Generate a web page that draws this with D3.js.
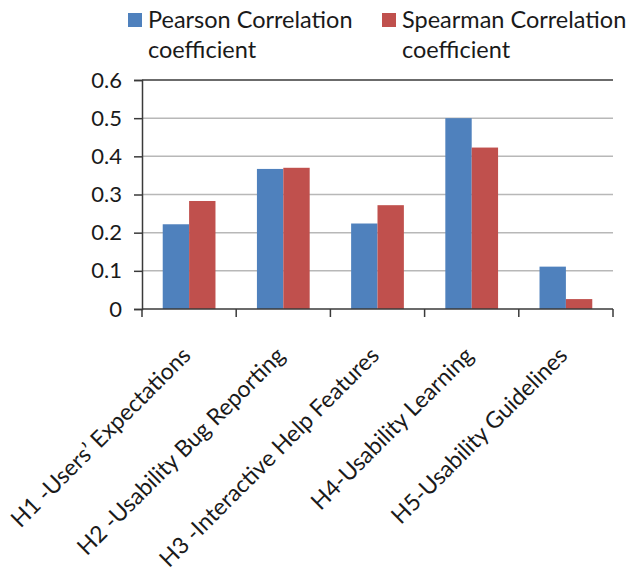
<!DOCTYPE html>
<html>
<head>
<meta charset="utf-8">
<script src="https://cdn.jsdelivr.net/npm/d3@7"></script>
<style>
    body { margin: 0; background: #fff; }
    text { font-family: Lato, "Open Sans", sans-serif; fill: #1a1a1a; }
</style>
</head>
<body>
<div id="chart"></div>
<script>
"use strict";

var categories = [
    "H1 -Users\u2019 Expectations",
    "H2 -Usability Bug Reporting",
    "H3 -Interactive Help Features",
    "H4-Usability Learning",
    "H5-Usability Guidelines"
];
var seriesNames = ["Pearson Correlation coefficient", "Spearman Correlation coefficient"];
var pearson = [0.222, 0.367, 0.224, 0.50, 0.111];
var spearman = [0.283, 0.370, 0.272, 0.423, 0.026];
var yTicks = [0, 0.1, 0.2, 0.3, 0.4, 0.5, 0.6];
var colors = ["#4f81bd", "#c0504d"];

var width = 633;
var height = 579;
var plotLeft = 142, plotRight = 613, plotTop = 80, plotBottom = 309;

var svg = d3.select("#chart")
    .append("svg")
    .attr("width", width)
    .attr("height", height);

var x = d3.scaleBand()
    .domain(categories)
    .range([plotLeft, plotRight])
    .paddingInner(0.44)
    .paddingOuter(0.22);

var xSub = d3.scaleBand()
    .domain([0, 1])
    .range([0, x.bandwidth()]);

var y = d3.scaleLinear()
    .domain([0, 0.6])
    .range([plotBottom, plotTop]);

// gridlines
svg.selectAll("line.grid")
    .data(yTicks.filter(function (d) { return d > 0; }))
    .enter()
    .append("line")
    .attr("class", "grid")
    .attr("x1", plotLeft)
    .attr("x2", plotRight)
    .attr("y1", function (d) { return y(d); })
    .attr("y2", function (d) { return y(d); })
    .attr("stroke", function (d) { return d === 0.6 ? "#3a3a3a" : "#b8b8b8"; })
    .attr("stroke-width", 1.5);

// bars
var rows = categories.map(function (c, i) {
    return { name: c, values: [pearson[i], spearman[i]] };
});

var groups = svg.selectAll("g.cat")
    .data(rows)
    .enter()
    .append("g")
    .attr("transform", function (d) { return "translate(" + x(d.name) + ",0)"; });

groups.selectAll("rect")
    .data(function (d) { return d.values; })
    .enter()
    .append("rect")
    .attr("x", function (d, i) { return xSub(i); })
    .attr("y", function (d) { return y(d); })
    .attr("width", xSub.bandwidth())
    .attr("height", function (d) { return plotBottom - y(d); })
    .attr("fill", function (d, i) { return colors[i]; });

// y axis
var yAxis = d3.axisLeft(y)
    .tickValues(yTicks)
    .tickSize(8)
    .tickPadding(12)
    .tickFormat(function (d) { return d === 0 ? "0" : d3.format(".1f")(d); });

var gy = svg.append("g")
    .attr("transform", "translate(" + plotLeft + ",0)")
    .call(yAxis);
gy.select(".domain").attr("stroke", "#3a3a3a").attr("stroke-width", 1.5);
gy.selectAll(".tick line").attr("stroke", "#3a3a3a").attr("stroke-width", 1.5);
gy.selectAll(".tick text")
    .attr("font-size", 22)
    .attr("font-family", "Lato, sans-serif")
    .attr("fill", "#1a1a1a");

// x axis line and boundary ticks
svg.append("line")
    .attr("x1", plotLeft)
    .attr("x2", plotRight)
    .attr("y1", plotBottom)
    .attr("y2", plotBottom)
    .attr("stroke", "#3a3a3a")
    .attr("stroke-width", 1.5);

var step = x.step();
var boundaries = d3.range(categories.length + 1).map(function (i) { return plotLeft + i * step; });
svg.selectAll("line.xtick")
    .data(boundaries)
    .enter()
    .append("line")
    .attr("x1", function (d) { return d; })
    .attr("x2", function (d) { return d; })
    .attr("y1", plotBottom)
    .attr("y2", plotBottom + 8)
    .attr("stroke", "#3a3a3a")
    .attr("stroke-width", 1.5);

// category labels, rotated
svg.selectAll("text.cat")
    .data(categories)
    .enter()
    .append("text")
    .attr("class", "cat")
    .attr("text-anchor", "end")
    .attr("font-size", 23)
    .attr("transform", function (d) {
        var cx = x(d) + x.bandwidth() / 2 + 3;
        return "translate(" + cx + "," + (plotBottom + 48) + ") rotate(-45)";
    })
    .text(function (d) { return d; });

// legend
var legendX = [128, 382];
var legend = svg.selectAll("g.legend")
    .data(seriesNames)
    .enter()
    .append("g")
    .attr("transform", function (d, i) { return "translate(" + legendX[i] + ",0)"; });

legend.append("rect")
    .attr("x", 0)
    .attr("y", 13)
    .attr("width", 14)
    .attr("height", 14)
    .attr("fill", function (d, i) { return colors[i]; });

legend.append("text")
    .attr("x", 20)
    .attr("y", 28)
    .attr("font-size", 23.5)
    .text(function (d) { return d.replace(" coefficient", ""); });

legend.append("text")
    .attr("x", 20)
    .attr("y", 58)
    .attr("font-size", 23.5)
    .text("coefficient");
</script>
</body>
</html>
